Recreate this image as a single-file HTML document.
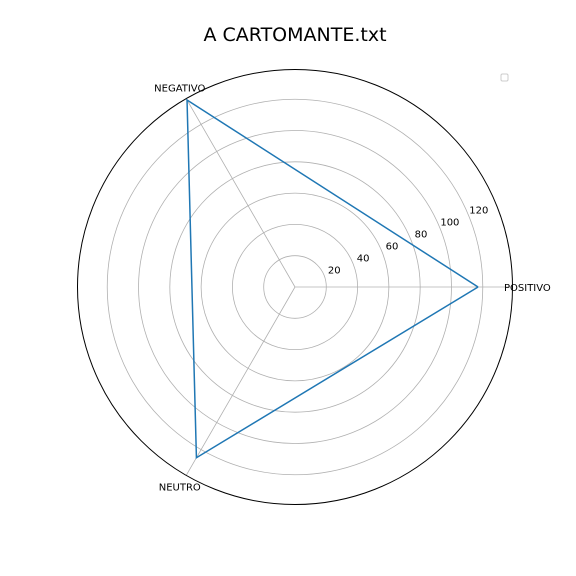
<!DOCTYPE html>
<html><head><meta charset="utf-8"><style>
body{margin:0;background:#fff;}
svg{display:block;font-family:"DejaVu Sans","Liberation Sans",sans-serif;}
</style></head><body>
<svg id="c" width="576" height="576" viewBox="0 0 576 576">
<text x="295" y="41" font-size="19" text-anchor="middle">A CARTOMANTE.txt</text>
<rect x="501" y="74" width="7" height="7" rx="1.5" fill="none" stroke="#ccc"/>
<g id="grid"></g><g id="plot"></g>
</svg>
<script>
const categories=["POSITIVO","NEGATIVO","NEUTRO"];
const values=[117,138,126];
const ticks=[20,40,60,80,100,120];
const rmax=139;
const cx=295,cy=287,R=217.5;
const NS="http://www.w3.org/2000/svg";
const g=document.getElementById('grid'),p=document.getElementById('plot');
function rs(v){return v/rmax*R;}
function pt(i,v){const a=i*2*Math.PI/categories.length;return [cx+rs(v)*Math.cos(a),cy-rs(v)*Math.sin(a)];}
function mk(t,at,par){const e=document.createElementNS(NS,t);for(const k in at)e.setAttribute(k,at[k]);par.appendChild(e);return e;}
ticks.forEach(t=>{
 const c=mk('circle',{cx:cx,cy:cy,r:rs(t),fill:'none',stroke:'#b0b0b0','stroke-width':0.8},g);
 
 
 const a=22.5*Math.PI/180,rr=rs(t)+9;
 const tx=mk('text',{x:cx+rr*Math.cos(a)+2,y:cy-rr*Math.sin(a)+2,'font-size':10,'text-anchor':'middle'},g);
 tx.textContent=t;
 
 
});
categories.forEach((c,i)=>{
 const e=pt(i,rmax);
 const l=mk('line',{x1:cx,y1:cy,x2:e[0],y2:e[1],stroke:'#b0b0b0','stroke-width':0.8},g);
 
 
 const a=i*2*Math.PI/categories.length,rr=R+13;
 const x=cx+rr*Math.cos(a),y=cy-rr*Math.sin(a);
 const t=mk('text',{x:(i==0?504:x),y:y+4,'font-size':10,'text-anchor':(i==0?'start':'middle')},g);
 t.textContent=c;
 
 
});
const o=mk('circle',{cx:cx,cy:cy,r:R,fill:'none',stroke:'#000','stroke-width':1},g);


const pts=values.map((v,i)=>pt(i,v));pts.push(pts[0]);
const poly=mk('polyline',{points:pts.map(q=>q.join(',')).join(' '),fill:'none',stroke:'#1f77b4','stroke-width':1.5},p);


</script>
</body></html>
